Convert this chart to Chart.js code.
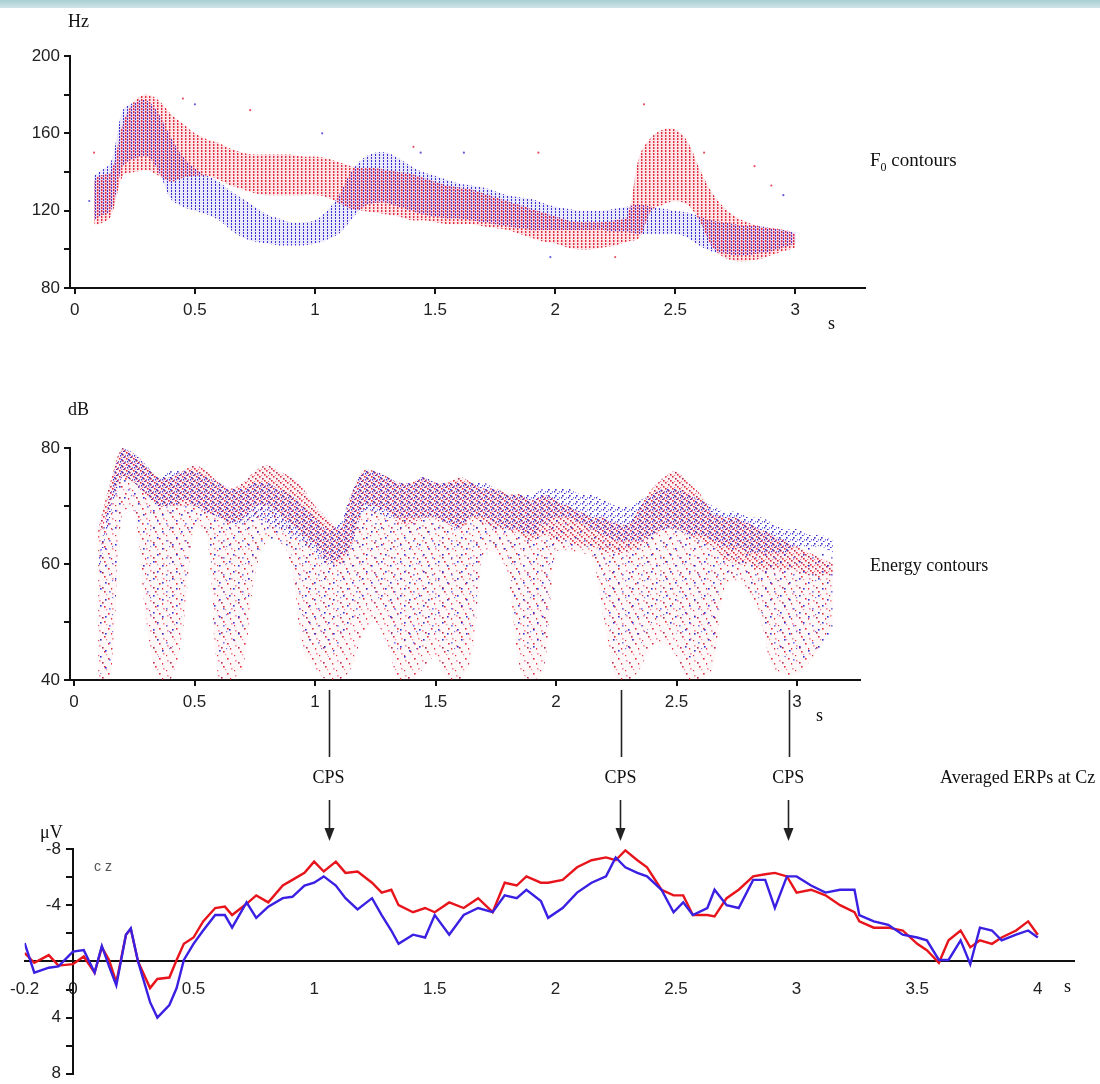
<!DOCTYPE html>
<html><head><meta charset="utf-8">
<script src="https://cdn.jsdelivr.net/npm/chart.js@4.4.1/dist/chart.umd.min.js"></script>
<style>
html,body{margin:0;padding:0;background:#fff;}
body{width:1100px;height:1084px;position:relative;overflow:hidden;}
.band{position:absolute;left:0;top:0;width:1100px;height:8px;background:linear-gradient(#a9cfd3,#cfe4e6);}
canvas{position:absolute;left:0;}
.t{position:absolute;font-family:"Liberation Serif","Times New Roman",serif;color:#111;font-size:18px;white-space:nowrap;line-height:1;}
.cz{position:absolute;font-family:"Liberation Sans",Arial,sans-serif;color:#555;font-size:14px;letter-spacing:4px;}
</style></head><body>
<div class="band"></div>
<canvas id="c1" width="1100" height="345" style="top:0"></canvas>
<canvas id="c2" width="1100" height="400" style="top:380px"></canvas>
<canvas id="c3" width="1100" height="327" style="top:760px"></canvas>
<div class="t" style="left:68px;top:12px">Hz</div>
<div class="t" style="left:828px;top:314px">s</div>
<div class="t" style="left:870px;top:150px;font-size:19px">F<sub style="font-size:12px">0</sub> contours</div>
<div class="t" style="left:68px;top:400px">dB</div>
<div class="t" style="left:816px;top:706px">s</div>
<div class="t" style="left:870px;top:556px">Energy contours</div>
<div class="t" style="left:940px;top:768px">Averaged ERPs at Cz</div>
<div class="t" style="left:40px;top:823px">μV</div>
<div class="cz" style="left:94px;top:858px">cz</div>
<div class="t" style="left:1064px;top:977px">s</div>
<div id="cpsLayer"></div>
<script>
// ---------------- data ----------------
const timeTicks = [0, 0.5, 1, 1.5, 2, 2.5, 3];
const erpTimeTicks = [-0.2, 0, 0.5, 1, 1.5, 2, 2.5, 3, 3.5, 4];
const f0Labels = [80, 120, 160, 200];
const dbLabels = [40, 60, 80];
const uvLabels = [-8, -4, 4, 8];
const cpsTimes = [1.06, 2.27, 2.965];

// F0 contours (Hz): time grid, band low / high for each condition
const f0Time = [0.08,0.10,0.15,0.20,0.25,0.30,0.35,0.40,0.45,0.50,0.55,0.60,0.65,0.70,0.75,0.80,0.85,0.90,0.95,1.00,1.05,1.10,1.15,1.20,1.25,1.30,1.35,1.40,1.45,1.50,1.55,1.60,1.65,1.70,1.75,1.80,1.85,1.90,1.95,2.00,2.05,2.10,2.15,2.20,2.25,2.30,2.35,2.40,2.45,2.50,2.55,2.60,2.65,2.70,2.75,2.80,2.85,2.90,2.95,3.00];
const f0RedLow  = [113,113,117,138,140,141,138,135,137,138,138,136,133,131,129,128,128,128,128,128,127,124,121,120,119,118,117,115,115,114,113,113,113,112,111,110,108,106,104,103,101,100,100,101,102,104,106,120,123,125,123,115,102,96,94,94,95,97,99,101];
const f0RedHigh = [135,138,140,165,177,180,177,170,165,160,157,155,152,150,149,149,149,149,148,148,147,145,143,142,142,141,140,139,137,135,133,132,131,129,127,125,123,121,119,117,115,114,114,114,115,117,148,158,162,162,156,142,130,122,117,114,112,111,110,108];
const f0BlueLow  = [115,117,120,143,147,148,140,126,122,120,118,115,110,106,104,103,102,102,102,103,105,108,115,122,124,124,122,120,118,117,116,116,115,114,113,112,111,110,110,110,110,110,110,110,109,109,108,108,108,108,106,102,99,98,97,97,98,99,101,103];
const f0BlueHigh = [138,140,145,172,176,177,170,158,148,142,138,135,130,126,122,118,116,114,114,115,120,128,140,147,150,150,147,143,140,138,136,134,133,132,130,128,127,126,124,122,121,120,120,120,121,122,123,122,121,120,119,117,115,114,113,112,112,111,110,109];
// isolated F0 dots outside the bands: [time, Hz]
const f0RedStray  = [[0.08,150],[0.73,172],[1.41,153],[1.93,150],[2.37,175],[2.83,143],[2.9,133],[2.25,96],[0.45,178],[2.62,150]];
const f0BlueStray = [[1.03,160],[1.62,150],[1.98,96],[0.5,175],[1.44,150],[2.95,128],[0.06,125]];

// Energy contours (dB): top of dense band, bottom of dense band, lowest sparse dots
const enTime = [0.10,0.15,0.20,0.25,0.30,0.35,0.40,0.45,0.50,0.55,0.60,0.65,0.70,0.75,0.80,0.85,0.90,0.95,1.00,1.05,1.10,1.15,1.20,1.25,1.30,1.35,1.40,1.45,1.50,1.55,1.60,1.65,1.70,1.75,1.80,1.85,1.90,1.95,2.00,2.05,2.10,2.15,2.20,2.25,2.30,2.35,2.40,2.45,2.50,2.55,2.60,2.65,2.70,2.75,2.80,2.85,2.90,2.95,3.00,3.05,3.10,3.15];
const enRedTop  = [66,74,80,79,77,75,75,76,77,76,74,73,74,76,77,76,75,73,70,68,66,72,76,76,75,74,74,75,74,74,75,74,73,73,72,72,71,72,71,70,69,68,68,67,67,70,73,75,76,74,72,69,68,68,67,66,65,64,63,62,61,60];
const enRedMid  = [64,70,75,74,72,70,70,70,70,69,68,67,68,70,70,69,67,65,63,61,60,63,70,70,69,67,67,68,68,67,66,68,67,66,66,65,64,65,64,64,63,63,62,62,62,63,65,66,66,65,64,63,61,60,60,59,59,59,59,58,58,58];
const enRedLow  = [40,40,69,69,50,40,40,48,66,65,40,40,42,58,64,64,60,45,42,40,40,42,48,50,46,40,40,42,44,40,40,44,62,62,58,42,40,42,62,62,62,61,50,40,40,42,46,46,44,40,40,42,56,57,55,50,42,41,41,43,46,50];
const enBlueTop = [60,72,80,79,77,75,76,76,76,75,74,73,73,74,74,73,72,70,68,66,67,72,76,76,75,74,74,75,74,74,74,74,74,73,72,72,72,73,73,73,72,72,71,70,70,71,72,73,73,72,71,70,69,69,68,68,67,66,66,65,65,64];
const enBlueMid = [58,68,75,74,72,70,70,71,70,69,68,67,67,68,67,66,65,64,62,60,61,63,69,69,68,68,68,68,68,67,66,68,68,67,66,66,65,67,68,68,67,66,65,64,64,64,65,66,66,65,65,64,63,63,62,62,62,62,63,63,63,62];
const enBlueLow = [41,42,70,70,55,44,45,52,67,67,44,46,48,60,64,64,62,48,46,44,46,48,52,54,50,44,44,46,48,45,44,48,63,63,60,46,45,46,63,63,63,62,54,45,44,46,50,50,48,44,44,46,58,58,57,52,46,44,43,44,45,48];

// Averaged ERPs at Cz (µV, negative up)
const erpTime = [-0.2,-0.16,-0.1,-0.06,0,0.045,0.09,0.12,0.15,0.18,0.22,0.24,0.27,0.32,0.35,0.40,0.43,0.46,0.50,0.54,0.59,0.63,0.66,0.72,0.76,0.81,0.87,0.91,0.96,1.00,1.04,1.09,1.13,1.18,1.24,1.28,1.32,1.35,1.41,1.46,1.50,1.56,1.62,1.68,1.74,1.79,1.84,1.88,1.94,1.97,2.03,2.09,2.15,2.21,2.25,2.29,2.34,2.38,2.44,2.49,2.53,2.57,2.63,2.66,2.71,2.76,2.82,2.87,2.91,2.96,3.00,3.06,3.12,3.18,3.24,3.26,3.32,3.38,3.44,3.50,3.54,3.59,3.63,3.68,3.72,3.76,3.81,3.85,3.91,3.96,4.00];
const erpRed  = [-0.6,0.1,-0.45,0.3,0.2,-0.35,0.8,-1.0,-0.1,1.5,-1.9,-2.3,0.0,1.9,1.25,1.15,-0.1,-1.25,-1.7,-2.85,-3.8,-3.9,-3.3,-4.1,-4.7,-4.2,-5.4,-5.8,-6.3,-7.1,-6.4,-7.1,-6.3,-6.4,-5.6,-4.9,-5.1,-4.0,-3.5,-3.8,-3.5,-4.2,-3.8,-4.5,-3.5,-5.6,-5.4,-6.05,-5.6,-5.6,-5.8,-6.7,-7.2,-7.4,-7.2,-7.9,-7.2,-6.7,-5.1,-4.7,-4.7,-3.3,-3.3,-3.2,-4.5,-5.1,-6.05,-6.2,-6.3,-6.05,-4.9,-5.1,-4.7,-4.0,-3.5,-2.85,-2.4,-2.4,-2.2,-1.25,-0.8,0.1,-1.5,-2.2,-1.0,-1.5,-1.25,-1.7,-2.2,-2.85,-1.9];
const erpBlue = [-1.3,0.8,0.45,0.35,-0.7,-0.8,0.8,-1.1,0.35,1.7,-1.9,-2.35,0.0,2.9,4.0,3.1,1.9,-0.1,-1.25,-2.2,-3.3,-3.3,-2.4,-4.2,-3.1,-3.9,-4.5,-4.6,-5.4,-5.6,-6.05,-5.4,-4.5,-3.7,-4.5,-3.3,-2.2,-1.25,-1.9,-1.7,-3.3,-1.9,-3.3,-3.8,-3.5,-4.7,-4.5,-5.1,-4.3,-3.1,-3.8,-4.9,-5.6,-6.05,-7.4,-6.7,-6.3,-6.05,-5.1,-3.5,-4.2,-3.3,-3.8,-5.1,-4.0,-3.8,-5.8,-5.8,-3.8,-6.05,-6.05,-5.4,-4.9,-5.1,-5.1,-3.3,-2.85,-2.6,-1.9,-1.7,-1.5,-0.1,-0.1,-1.5,0.2,-2.4,-2.2,-1.5,-1.9,-2.2,-1.7];

// ---------------- styles ----------------
const SANS = '"Liberation Sans Narrow","Arial Narrow","Liberation Sans",Arial,sans-serif';
const INK = '#111';
function pattern(w, h, bg, dots) {
  const c = document.createElement('canvas'); c.width = w; c.height = h;
  const g = c.getContext('2d');
  if (bg) { g.fillStyle = bg; g.fillRect(0, 0, w, h); }
  dots.forEach(d => { g.fillStyle = d[4]; g.fillRect(d[0], d[1], d[2], d[3]); });
  return g.createPattern(c, 'repeat');
}
const RED = 'rgba(222,28,48,0.92)', DRED = 'rgba(170,20,60,0.9)', PINK = 'rgba(240,120,140,0.85)', BLUE = 'rgba(48,36,205,0.95)', LBLUE = 'rgba(110,100,235,0.9)';
const f0RedPat  = pattern(4, 3, 'rgba(240,70,90,0.14)', [[1,0,1.4,2,RED]]);
const f0BluePat = pattern(4, 3, 'rgba(80,70,230,0.12)', [[3,1,1.2,2,BLUE]]);
const enRedDense = pattern(7, 6, 'rgba(240,80,100,0.08)', [[0,0,1.6,1.6,RED],[3,2,1.6,1.6,DRED],[5,4,1.6,1.6,RED],[2,5,1.2,1,PINK]]);
const enBlueDense = pattern(7, 6, null, [[2,1,1.6,1.6,BLUE],[6,3,1.6,1.6,LBLUE],[4,5,1.6,1,BLUE],[1,3,1.2,1.5,BLUE]]);
const enRedSparse = pattern(17, 15, 'rgba(240,110,130,0.05)', [[2,1,1.6,1.6,RED],[10,3,1.6,1.6,PINK],[6,8,1.6,1.6,RED],[14,10,1.6,1.6,PINK],[0,12,1.6,1.6,DRED],[9,13,1.2,1.6,RED],[13,5,1.2,1.2,RED],[4,4,1.2,1.2,PINK]]);
const enBlueSparse = pattern(19, 17, null, [[5,4,1.6,1.6,BLUE],[14,7,1.6,1.6,LBLUE],[1,11,1.6,1.6,BLUE],[10,15,1.6,1.6,BLUE],[17,13,1.2,1.2,LBLUE]]);

function pts(xs, ys) { return xs.map((x, i) => ({ x: x, y: ys[i] })); }
function band(xs, ys, fill, bg) {
  return { data: pts(xs, ys), borderWidth: 0, pointRadius: 0, tension: 0.35, fill: fill, backgroundColor: bg, borderColor: 'rgba(0,0,0,0)' };
}
function stray(list, color) {
  return { type: 'scatter', data: list.map(p => ({ x: p[0], y: p[1] })), pointRadius: 1.1, pointBorderWidth: 0, backgroundColor: color, borderColor: color };
}
const tickFont = { family: SANS, size: 17 };
const fmt = v => String(v);
function baseX(min, max) {
  return {
    type: 'linear', min: min, max: max,
    afterBuildTicks: a => { a.ticks = timeTicks.map(v => ({ value: v })); },
    ticks: { color: '#222', font: tickFont, padding: 6, autoSkip: false, maxRotation: 0, callback: fmt },
    grid: { drawOnChartArea: false, drawTicks: true, tickLength: 6, color: INK, lineWidth: 2 },
    border: { color: INK, width: 2 },
    afterFit: s => { s.height = 45; }
  };
}
function baseY(min, max, step, labels) {
  return {
    type: 'linear', min: min, max: max,
    ticks: { stepSize: step, color: '#222', font: tickFont, padding: 4, callback: v => labels.includes(v) ? String(v) : '' },
    grid: { drawOnChartArea: false, drawTicks: true, tickLength: 6, color: INK, lineWidth: 2 },
    border: { color: INK, width: 2 },
    afterFit: s => { s.width = 50; }
  };
}
const common = { responsive: false, animation: false, devicePixelRatio: 1, events: [],
  plugins: { legend: { display: false }, tooltip: { enabled: false } } };

// ---------- Panel 1: F0 ----------
new Chart(document.getElementById('c1'), {
  type: 'line',
  data: { datasets: [
    stray(f0RedStray, 'rgba(225,40,60,0.8)'),
    stray(f0BlueStray, 'rgba(60,50,210,0.8)'),
    band(f0Time, f0RedHigh, false, 'transparent'),
    band(f0Time, f0RedLow, '-1', f0RedPat),
    band(f0Time, f0BlueHigh, false, 'transparent'),
    band(f0Time, f0BlueLow, '-1', f0BluePat)
  ] },
  options: Object.assign({}, common, {
    layout: { padding: { left: 20, right: 235, top: 56, bottom: 12 } },
    scales: { x: baseX(-0.02, 3.29), y: baseY(80, 200, 20, f0Labels) }
  })
});

// ---------- Panel 2: energy ----------
const cpsUpper = {
  id: 'cpsUpper',
  afterDraw(chart) {
    const g = chart.ctx, b = chart.chartArea.bottom;
    g.save(); g.strokeStyle = '#222'; g.lineWidth = 1.6;
    cpsTimes.forEach(t => {
      const x = Math.round(chart.scales.x.getPixelForValue(t)) + 0.5;
      g.beginPath(); g.moveTo(x, b + 10); g.lineTo(x, b + 77); g.stroke();
    });
    g.restore();
  }
};
new Chart(document.getElementById('c2'), {
  type: 'line',
  data: { datasets: [
    band(enTime, enBlueTop, false, 'transparent'),
    band(enTime, enBlueMid, '-1', enBlueDense),
    band(enTime, enBlueLow, '-1', enBlueSparse),
    band(enTime, enRedTop, false, 'transparent'),
    band(enTime, enRedMid, '-1', enRedDense),
    band(enTime, enRedLow, '-1', enRedSparse)
  ] },
  options: Object.assign({}, common, {
    layout: { padding: { left: 20, right: 240, top: 68, bottom: 55 } },
    scales: { x: baseX(-0.0166, 3.2614), y: baseY(40, 80, 10, dbLabels) }
  }),
  plugins: [cpsUpper]
});

// ---------- Panel 3: ERPs ----------
const cpsLower = {
  id: 'cpsLower',
  afterDraw(chart) {
    const g = chart.ctx;
    g.save(); g.strokeStyle = '#222'; g.fillStyle = '#222'; g.lineWidth = 1.6;
    cpsTimes.forEach(t => {
      const x = Math.round(chart.scales.x.getPixelForValue(t)) + 0.5;
      g.beginPath(); g.moveTo(x, 40); g.lineTo(x, 70); g.stroke();
      g.beginPath(); g.moveTo(x - 5, 68); g.lineTo(x + 5, 68); g.lineTo(x, 81); g.closePath(); g.fill();
    });
    g.restore();
  }
};
const erp = new Chart(document.getElementById('c3'), {
  type: 'line',
  data: { datasets: [
    { data: pts(erpTime, erpBlue), borderColor: '#3a20e2', borderWidth: 2.4, pointRadius: 0, tension: 0 },
    { data: pts(erpTime, erpRed), borderColor: '#e8141c', borderWidth: 2.4, pointRadius: 0, tension: 0 }
  ] },
  options: Object.assign({}, common, {
    layout: { padding: { left: 23.7, right: 26, top: 89, bottom: 9 } },
    scales: {
      x: {
        type: 'linear', min: -0.2, max: 4.15, position: { y: 0 },
        afterBuildTicks: a => { a.ticks = erpTimeTicks.map(v => ({ value: v })); },
        ticks: { color: '#222', font: tickFont, padding: 10, autoSkip: false, maxRotation: 0, callback: fmt },
        grid: { display: false },
        border: { color: INK, width: 2 }
      },
      y: {
        type: 'linear', min: -8, max: 8, reverse: true, position: { x: 0 },
        ticks: { stepSize: 2, color: '#222', font: tickFont, callback: v => uvLabels.includes(v) ? String(v) + '\u2002\u2009' : '' },
        grid: { drawOnChartArea: false, drawTicks: true, tickLength: 6, color: INK, lineWidth: 2 },
        border: { color: INK, width: 2 }
      }
    }
  }),
  plugins: [cpsLower]
});

// CPS labels as real text, placed with the ERP time scale
const layer = document.getElementById('cpsLayer');
cpsTimes.forEach(t => {
  const d = document.createElement('div');
  d.className = 't';
  d.textContent = 'CPS';
  d.style.top = '768px';
  d.style.left = erp.scales.x.getPixelForValue(t) + 'px';
  d.style.transform = 'translateX(-50%)';
  layer.appendChild(d);
});
</script>
</body></html>
